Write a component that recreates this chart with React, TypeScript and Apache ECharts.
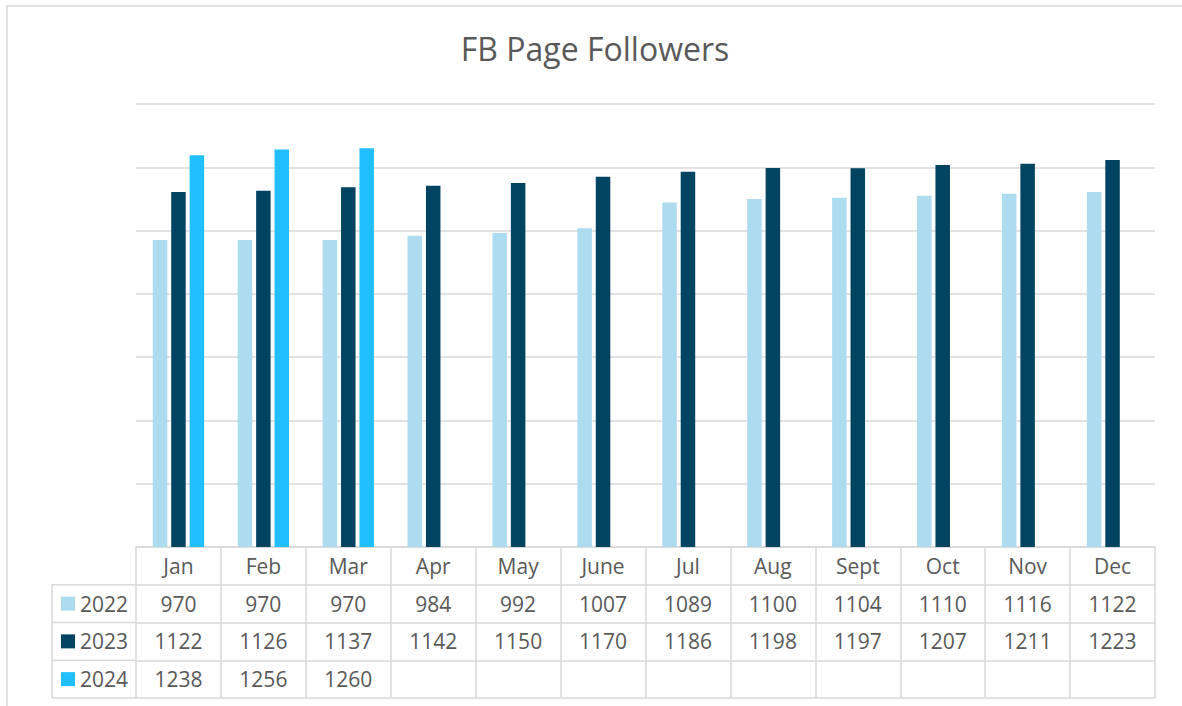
import React, { useEffect, useRef } from "react";
import * as echarts from "echarts";

const title = "FB Page Followers";
const months = ["Jan", "Feb", "Mar", "Apr", "May", "June", "Jul", "Aug", "Sept", "Oct", "Nov", "Dec"];
const seriesNames = ["2022", "2023", "2024"];
const y2022 = [970, 970, 970, 984, 992, 1007, 1089, 1100, 1104, 1110, 1116, 1122];
const y2023 = [1122, 1126, 1137, 1142, 1150, 1170, 1186, 1198, 1197, 1207, 1211, 1223];
const y2024: (number | null)[] = [1238, 1256, 1260, null, null, null, null, null, null, null, null, null];
const colors = ["#ADDBF0", "#014462", "#21BFFF"];

const FONT = "'Open Sans', sans-serif";
const TEXT = "#595959";
const LINE = "#D9D9D9";

export default function App() {
  const ref = useRef<HTMLDivElement>(null);
  useEffect(() => {
    if (!ref.current) return;
    const chart = echarts.init(ref.current, undefined, { renderer: "svg" });
    const gridLeft = 136;
    const gridRight = 1155;
    const gridTop = 104;
    const gridBottom = 547;
    const rowH = 37.75;
    const rows = [y2022, y2023, y2024];
    const rowAxes = rows.map((r, i) => ({
      type: "category",
      gridIndex: 0,
      position: "bottom",
      offset: rowH * (i + 1),
      data: r.map((v) => (v == null ? "" : String(v))),
      axisLine: { show: true, lineStyle: { color: LINE, width: 1.5 } },
      axisTick: { show: false },
      splitLine: { show: false },
      axisLabel: {
        interval: 0,
        margin: rowH / 2,
        verticalAlign: "middle",
        fontFamily: FONT,
        fontSize: 21,
        color: TEXT,
      },
    }));
    const bottomAxis = {
      type: "category",
      gridIndex: 0,
      position: "bottom",
      offset: rowH * 4,
      data: months,
      axisLine: { show: true, lineStyle: { color: LINE, width: 1.5 } },
      axisTick: { show: false },
      axisLabel: { show: false },
      splitLine: { show: false },
    };
    const lineY = (k: number) => gridBottom + rowH * k;
    const legendLines: any[] = [];
    legendLines.push({
      type: "line",
      shape: { x1: 52, y1: lineY(1), x2: 52, y2: lineY(4) },
      style: { stroke: LINE, lineWidth: 1.5 },
    });
    for (let k = 1; k <= 4; k++) {
      legendLines.push({
        type: "line",
        shape: { x1: 52, y1: lineY(k), x2: gridLeft, y2: lineY(k) },
        style: { stroke: LINE, lineWidth: 1.5 },
      });
    }
    chart.setOption({
      animation: false,
      title: {
        text: title,
        left: 590,
        textAlign: "center",
        top: 27,
        textStyle: { fontFamily: FONT, fontSize: 32, fontWeight: "normal", color: TEXT },
      },
      legend: {
        data: seriesNames,
        orient: "vertical",
        left: 61,
        top: lineY(1) + rowH / 2 - 10.5,
        padding: 0,
        itemWidth: 14,
        itemHeight: 14,
        itemGap: rowH - 21,
        icon: "rect",
        selectedMode: false,
        textStyle: { fontFamily: FONT, fontSize: 21, color: TEXT, lineHeight: 21 },
      },
      grid: {
        left: gridLeft,
        right: 1182 - gridRight,
        top: gridTop,
        bottom: 706 - gridBottom,
        containLabel: false,
      },
      xAxis: [
        {
          type: "category",
          data: months,
          position: "bottom",
          axisLine: { show: true, lineStyle: { color: LINE, width: 1.5 } },
          axisTick: { show: true, length: rowH * 4, lineStyle: { color: LINE, width: 1.5 } },
          axisLabel: {
            interval: 0,
            margin: rowH / 2,
            verticalAlign: "middle",
            fontFamily: FONT,
            fontSize: 21,
            color: TEXT,
          },
          splitLine: { show: false },
        },
        ...rowAxes,
        bottomAxis,
      ],
      yAxis: {
        type: "value",
        min: 0,
        max: 1400,
        interval: 200,
        axisLabel: { show: false },
        axisLine: { show: false },
        axisTick: { show: false },
        splitLine: { show: true, lineStyle: { color: LINE, width: 1.5 } },
      },
      series: [y2022, y2023, y2024].map((d, i) => ({
        name: seriesNames[i],
        type: "bar",
        xAxisIndex: 0,
        data: d,
        barWidth: 14.5,
        barGap: "27%",
        itemStyle: { color: colors[i] },
      })),
      graphic: [
        {
          type: "rect",
          shape: { x: 7, y: 6, width: 1200, height: 720 },
          style: { fill: "none", stroke: LINE, lineWidth: 1.5 },
          silent: true,
        },
        ...legendLines,
      ],
    });
    return () => chart.dispose();
  }, []);
  return (
    <div
      ref={ref}
      style={{ position: "fixed", left: 0, top: 0, width: 1182, height: 706, background: "#fff" }}
    />
  );
}
